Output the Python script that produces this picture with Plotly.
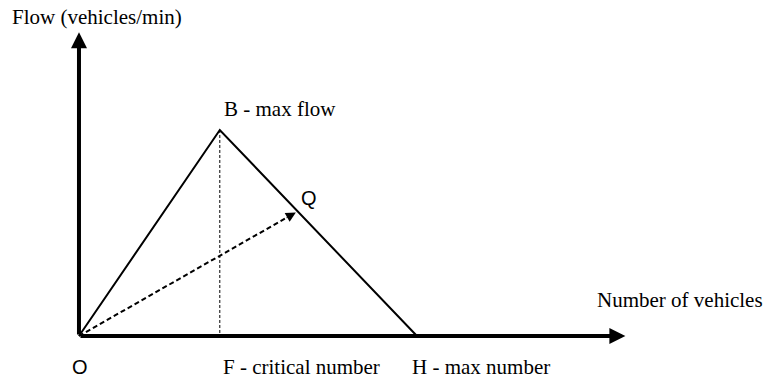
import plotly.graph_objects as go

# fundamental diagram (arbitrary units)
origin = [0, 0]
critical_density = 25      # F
jam_density = 60           # H
max_flow = 40              # B
q_point = [38.5, 24]       # Q, on the falling branch
x_axis_end = 97
y_axis_end = 59

triangle_x = [origin[0], critical_density, jam_density]
triangle_y = [origin[1], max_flow, 0]

SERIF = "Liberation Serif"
SANS = "Liberation Sans"

fig = go.Figure()

# O -> B -> H
fig.add_trace(go.Scatter(x=triangle_x, y=triangle_y, mode="lines",
                         line=dict(color="black", width=2), hoverinfo="skip"))

# dotted drop from B to F
fig.add_trace(go.Scatter(x=[critical_density, critical_density], y=[max_flow, 0],
                         mode="lines", line=dict(color="black", width=1, dash="3px,2px"),
                         hoverinfo="skip"))

# dashed ray O -> Q (stop a little short, the arrowhead covers the end)
stop = 0.96
fig.add_trace(go.Scatter(x=[origin[0], q_point[0] * stop], y=[origin[1], q_point[1] * stop],
                         mode="lines", line=dict(color="black", width=2, dash="5px,3px"),
                         hoverinfo="skip"))

arrows = [
    dict(x=x_axis_end, y=0, ax=0, ay=0, arrowwidth=4, arrowsize=0.8),
    dict(x=0, y=y_axis_end, ax=0, ay=0, arrowwidth=4, arrowsize=0.8),
    dict(x=q_point[0], y=q_point[1], ax=q_point[0] * 0.95, ay=q_point[1] * 0.95,
         arrowwidth=1, arrowsize=2),
]
for a in arrows:
    fig.add_annotation(text="", showarrow=True, arrowhead=2, arrowcolor="black",
                       axref="x", ayref="y", standoff=0, **a)

serif = dict(family=SERIF, size=21, color="black")
sans = dict(family=SANS, size=20, color="black")

labels = [
    dict(x=0, y=y_axis_end, text="Flow (vehicles/min)", xanchor="left", xshift=-69, yshift=15, font=serif),
    dict(x=x_axis_end, y=0, text="Number of vehicles", xanchor="left", xshift=-30, yshift=36, font=serif),
    dict(x=critical_density, y=max_flow, text="B - max flow", xanchor="left", xshift=2, yshift=21, font=serif),
    dict(x=q_point[0], y=q_point[1], text="Q", xanchor="center", xshift=13, yshift=14, font=sans),
    dict(x=0, y=0, text="O", xanchor="center", xshift=1, yshift=-31, font=sans),
    dict(x=critical_density, y=0, text="F - critical number", xanchor="left", xshift=1, yshift=-31, font=serif),
    dict(x=jam_density, y=0, text="H - max number", xanchor="left", xshift=-7, yshift=-31, font=serif),
]
for lab in labels:
    fig.add_annotation(showarrow=False, yanchor="middle", **lab)

fig.update_layout(
    width=766, height=379,
    margin=dict(l=0, r=0, t=0, b=0),
    paper_bgcolor="white", plot_bgcolor="white",
    showlegend=False,
    xaxis=dict(range=[-14.02, 121.96], visible=False, fixedrange=True),
    yaxis=dict(range=[-8.35, 65.24], visible=False, fixedrange=True),
)

# the page's default body margin would push the figure off by 8px
fig.write_html("out.html", config={"displayModeBar": False},
               post_script="document.body.style.margin = '0';")
